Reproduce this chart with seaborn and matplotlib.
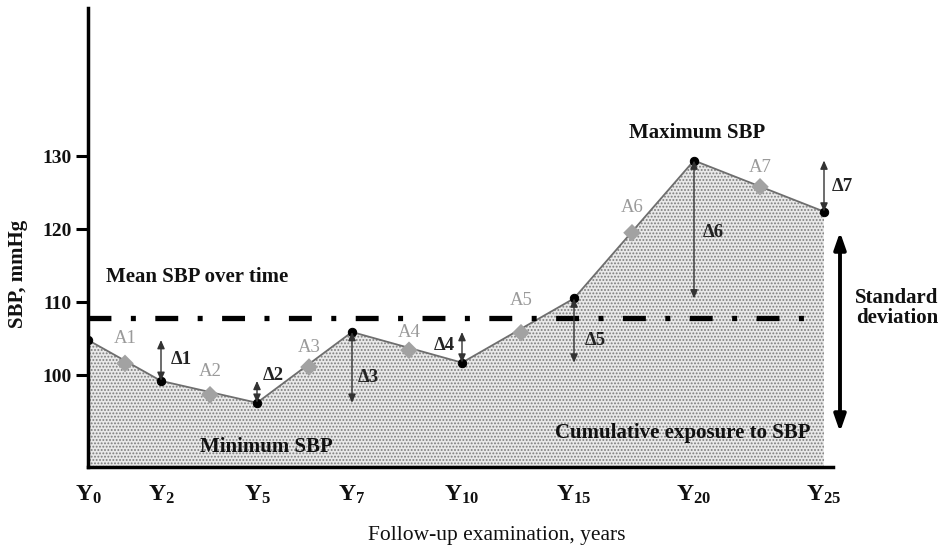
import matplotlib
matplotlib.use("Agg")
import matplotlib.pyplot as plt
import seaborn as sns

# examinations: year, position along the (schematic) x axis, SBP value
exam_years = [0, 2, 5, 7, 10, 15, 20, 25]
exam_pos = [0.0, 7.3, 16.9, 26.4, 37.4, 48.6, 60.6, 73.6]
sbp = [104.8, 99.2, 96.2, 105.9, 101.7, 110.5, 129.4, 122.4]

# area segments A1..A7 (grey diamonds)
area_labels = ["A1", "A2", "A3", "A4", "A5", "A6", "A7"]
area_pos = [3.7, 12.2, 22.1, 32.1, 43.3, 54.4, 67.2]
area_sbp = [101.6, 97.3, 101.1, 103.4, 105.8, 119.5, 125.8]

# summary measures
mean_sbp = 107.8
mean_end = 72.9
sd_low, sd_high = 92.2, 119.6
y_ticks = [100, 110, 120, 130]

sns.set_theme(style="ticks")
plt.rcParams["font.family"] = ["Liberation Serif", "DejaVu Serif"]
plt.rcParams["mathtext.default"] = "regular"
plt.rcParams["lines.scale_dashes"] = False
plt.rcParams["hatch.linewidth"] = 0.9

fig = plt.figure(figsize=(9.47, 5.55), dpi=100)
ax = fig.add_axes([88 / 947, 88 / 555, 1 - 88 / 947, 459 / 555])
ymin, ymax = 87.4, 150.3
ax.set_xlim(0, 85.9)
ax.set_ylim(ymin, ymax)

# cumulative exposure (stippled area)
ax.fill_between(exam_pos, sbp, ymin, facecolor="#e9e9e9", edgecolor="#7c7c7c",
                hatch=".....", linewidth=0, zorder=1)

# SBP trajectory
sns.lineplot(x=exam_pos, y=sbp, ax=ax, color="#6e6e6e", linewidth=1.3,
             marker="o", markersize=6, markerfacecolor="black",
             markeredgecolor="black", errorbar=None, zorder=3)

# area markers
sns.scatterplot(x=area_pos, y=area_sbp, ax=ax, marker="D", s=80,
                color="#a2a2a2", edgecolor="none", zorder=4)
label_up = [18, 17, 14, 13, 23, 18, 14]
for lab, xp, yp, up in zip(area_labels, area_pos, area_sbp, label_up):
    ax.annotate(lab, (xp, yp), xytext=(0, up), textcoords="offset points",
                ha="center", va="center", fontsize=13.5, color="#9a9a9a")

# mean SBP over time
ax.plot([exam_pos[0], mean_end], [mean_sbp, mean_sbp], color="black",
        linewidth=3.8, linestyle=(0, (16.5, 14, 3.6, 14)), zorder=5)

# deltas between consecutive visits
delta_text = [(8.3, 102.2, "left"), (17.5, 100.0, "left"), (27.0, 99.7, "left"),
              (36.7, 104.1, "right"), (49.7, 104.8, "left"), (61.5, 119.6, "left"),
              (74.4, 125.8, "left")]
for i in range(1, len(sbp)):
    ax.annotate("", xy=(exam_pos[i], sbp[i - 1]), xytext=(exam_pos[i], sbp[i]),
                arrowprops=dict(arrowstyle="<|-|>,head_length=0.5,head_width=0.22",
                                color="#333333", lw=1.0, shrinkA=0, shrinkB=0,
                                mutation_scale=10), zorder=6)
    tx, ty, ha = delta_text[i - 1]
    ax.text(tx, ty, f"Δ{i}", ha=ha, va="center", fontsize=13.5, fontweight="bold",
            color="#222222", zorder=7)

# standard deviation arrow
ax.annotate("", xy=(75.2, sd_high), xytext=(75.2, sd_low),
            arrowprops=dict(arrowstyle="<|-|>,head_length=1.0,head_width=0.35",
                            color="black", lw=2.8, shrinkA=0, shrinkB=0,
                            mutation_scale=10), annotation_clip=False)

txt = dict(fontsize=15, fontweight="bold", color="#111111")
ax.text(1.8, 113.4, "Mean SBP over time", ha="left", va="center", **txt)
ax.text(17.8, 90.1, "Minimum SBP", ha="center", va="center", zorder=7, **txt)
ax.text(59.5, 92.1, "Cumulative exposure to SBP", ha="center", va="center", zorder=7, **txt)
ax.text(60.9, 133.2, "Maximum SBP", ha="center", va="center", **txt)
ax.text(80.9, 109.2, "Standard\ndeviation", ha="center", va="center",
        linespacing=1.05, **txt)

# axes styling
ax.set_yticks(y_ticks)
ax.set_yticklabels([str(t) for t in y_ticks], fontsize=14, fontweight="bold")
ax.set_xticks(exam_pos)
ax.set_xticklabels([f"Y$_{{{y}}}$" for y in exam_years], fontsize=17, fontweight="bold")
ax.tick_params(axis="y", length=8.5, width=2.2, pad=3, color="black", labelcolor="#111111")
ax.tick_params(axis="x", length=0, pad=12, labelcolor="#111111")

for side in ["top", "right"]:
    ax.spines[side].set_visible(False)
for side in ["left", "bottom"]:
    ax.spines[side].set_linewidth(2.5)
    ax.spines[side].set_color("black")
ax.spines["bottom"].set_bounds(0, 74.5)

ax.set_xlabel("Follow-up examination, years", fontsize=15.5, color="#111111")
ax.xaxis.set_label_coords(0.476, -0.128)
ax.set_ylabel("SBP, mmHg", fontsize=15, fontweight="bold", color="#111111")
ax.yaxis.set_label_coords(-0.070, 0.42)

fig.savefig("out.png", dpi=100)
